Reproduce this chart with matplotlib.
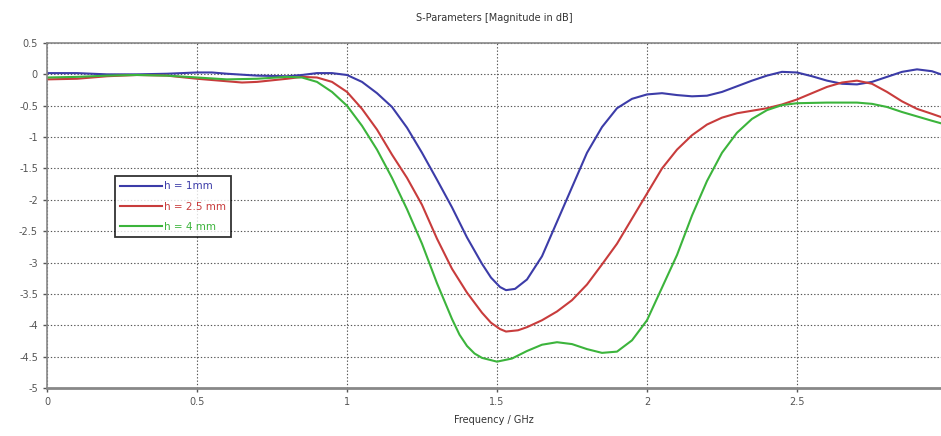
import matplotlib
matplotlib.use("Agg")
import matplotlib.pyplot as plt

plt.rcParams['axes.unicode_minus'] = False
plt.rcParams['font.family'] = ['DejaVu Sans']

f_blue = [0, 0.1, 0.2, 0.3, 0.4, 0.5, 0.55, 0.6, 0.7, 0.8, 0.85, 0.9, 0.95, 1.0, 1.05, 1.1, 1.15, 1.2, 1.25,
          1.3, 1.35, 1.4, 1.45, 1.48, 1.51, 1.53, 1.56, 1.6, 1.65, 1.7, 1.75, 1.8, 1.85, 1.9, 1.95, 2.0, 2.05,
          2.1, 2.15, 2.2, 2.25, 2.3, 2.35, 2.4, 2.45, 2.5, 2.55, 2.6, 2.65, 2.7, 2.75, 2.8, 2.85, 2.9, 2.95, 2.98]
s_blue = [0.02, 0.02, 0.0, 0.0, 0.01, 0.03, 0.03, 0.01, -0.02, -0.03, -0.01, 0.02, 0.02, -0.01, -0.12, -0.3,
          -0.52, -0.85, -1.25, -1.68, -2.12, -2.6, -3.02, -3.24, -3.39, -3.44, -3.42, -3.27, -2.9, -2.35, -1.8,
          -1.25, -0.84, -0.54, -0.39, -0.32, -0.3, -0.33, -0.35, -0.34, -0.28, -0.19, -0.1, -0.02, 0.04, 0.03,
          -0.03, -0.1, -0.15, -0.16, -0.12, -0.04, 0.04, 0.08, 0.05, 0.0]

f_red = [0, 0.1, 0.2, 0.3, 0.4, 0.5, 0.6, 0.65, 0.7, 0.8, 0.85, 0.9, 0.95, 1.0, 1.05, 1.1, 1.15, 1.2, 1.25,
         1.3, 1.35, 1.4, 1.45, 1.48, 1.51, 1.53, 1.57, 1.6, 1.65, 1.7, 1.75, 1.8, 1.85, 1.9, 1.95, 2.0, 2.05,
         2.1, 2.15, 2.2, 2.25, 2.3, 2.35, 2.4, 2.45, 2.5, 2.55, 2.6, 2.65, 2.7, 2.75, 2.8, 2.85, 2.9, 2.95, 2.98]
s_red = [-0.08, -0.07, -0.03, -0.01, -0.02, -0.07, -0.11, -0.13, -0.12, -0.07, -0.04, -0.05, -0.12, -0.28,
         -0.55, -0.88, -1.28, -1.65, -2.08, -2.62, -3.1, -3.48, -3.8, -3.96, -4.06, -4.1, -4.08, -4.03, -3.92,
         -3.78, -3.6, -3.35, -3.03, -2.7, -2.3, -1.9, -1.5, -1.2, -0.97, -0.8, -0.69, -0.62, -0.58, -0.54,
         -0.48, -0.4, -0.3, -0.2, -0.13, -0.1, -0.15, -0.28, -0.43, -0.55, -0.63, -0.68]

f_green = [0, 0.1, 0.2, 0.3, 0.4, 0.5, 0.6, 0.7, 0.8, 0.85, 0.9, 0.95, 1.0, 1.05, 1.1, 1.15, 1.2, 1.25,
           1.3, 1.35, 1.375, 1.4, 1.425, 1.45, 1.5, 1.55, 1.6, 1.65, 1.7, 1.75, 1.8, 1.85, 1.9, 1.95, 2.0,
           2.05, 2.1, 2.15, 2.2, 2.25, 2.3, 2.35, 2.4, 2.45, 2.5, 2.6, 2.7, 2.75, 2.8, 2.85, 2.9, 2.95, 2.98]
s_green = [-0.05, -0.04, -0.02, -0.01, -0.02, -0.05, -0.08, -0.07, -0.04, -0.05, -0.12, -0.28, -0.5, -0.82,
           -1.2, -1.65, -2.15, -2.7, -3.33, -3.9, -4.15, -4.33, -4.45, -4.52, -4.58, -4.53, -4.41, -4.31,
           -4.27, -4.3, -4.38, -4.44, -4.42, -4.24, -3.92, -3.4, -2.88, -2.25, -1.7, -1.25, -0.93, -0.71,
           -0.57, -0.49, -0.46, -0.45, -0.45, -0.47, -0.52, -0.6, -0.67, -0.74, -0.78]

labels = ["h = 1mm", "h = 2.5 mm", "h = 4 mm"]
colors = ["#3c3ca8", "#c83c3c", "#3cb43c"]

x_ticks = [0, 0.5, 1, 1.5, 2, 2.5]
x_ticklabels = ["0", "0.5", "1", "1.5", "2", "2.5"]
y_ticks = [0.5, 0, -0.5, -1, -1.5, -2, -2.5, -3, -3.5, -4, -4.5, -5]
y_ticklabels = ["0.5", "0", "-0.5", "-1", "-1.5", "-2", "-2.5", "-3", "-3.5", "-4", "-4.5", "-5"]

fig = plt.figure(figsize=(9.41, 4.36), dpi=100)
ax = fig.add_axes([47/941, 1-388/436, 1-47/941, (388-43)/436])

for fx, sy, lab, c in zip([f_blue, f_red, f_green], [s_blue, s_red, s_green], labels, colors):
    ax.plot(fx, sy, color=c, lw=1.5, label=lab)

ax.set_xlim(0, 2.98)
ax.set_ylim(-5, 0.5)
ax.set_xticks(x_ticks)
ax.set_xticklabels(x_ticklabels)
ax.set_yticks(y_ticks)
ax.set_yticklabels(y_ticklabels)
ax.tick_params(labelsize=7, colors="#555555", length=3, width=1)
ax.grid(True, linestyle=(0, (1.2, 1.8)), color="#555555", lw=0.8)

for side in ["top", "left", "bottom"]:
    ax.spines[side].set_color("#888888")
    ax.spines[side].set_linewidth(1.2)
ax.spines["bottom"].set_linewidth(2)
ax.spines["right"].set_visible(False)

ax.set_title("S-Parameters [Magnitude in dB]", fontsize=7, color="#333333", pad=16)
ax.set_xlabel("Frequency / GHz", fontsize=7, color="#333333", labelpad=6)

leg = ax.legend(loc="upper left", bbox_to_anchor=((115-47)/894, (388-176)/345), fontsize=7.5,
                frameon=True, fancybox=False, handlelength=4.0, handletextpad=0.2,
                borderpad=0.5, labelspacing=1.0, borderaxespad=0)
leg.get_frame().set_edgecolor("black")
leg.get_frame().set_linewidth(1.3)
for t, c in zip(leg.get_texts(), colors):
    t.set_color(c)

fig.savefig("out.png", dpi=100)
